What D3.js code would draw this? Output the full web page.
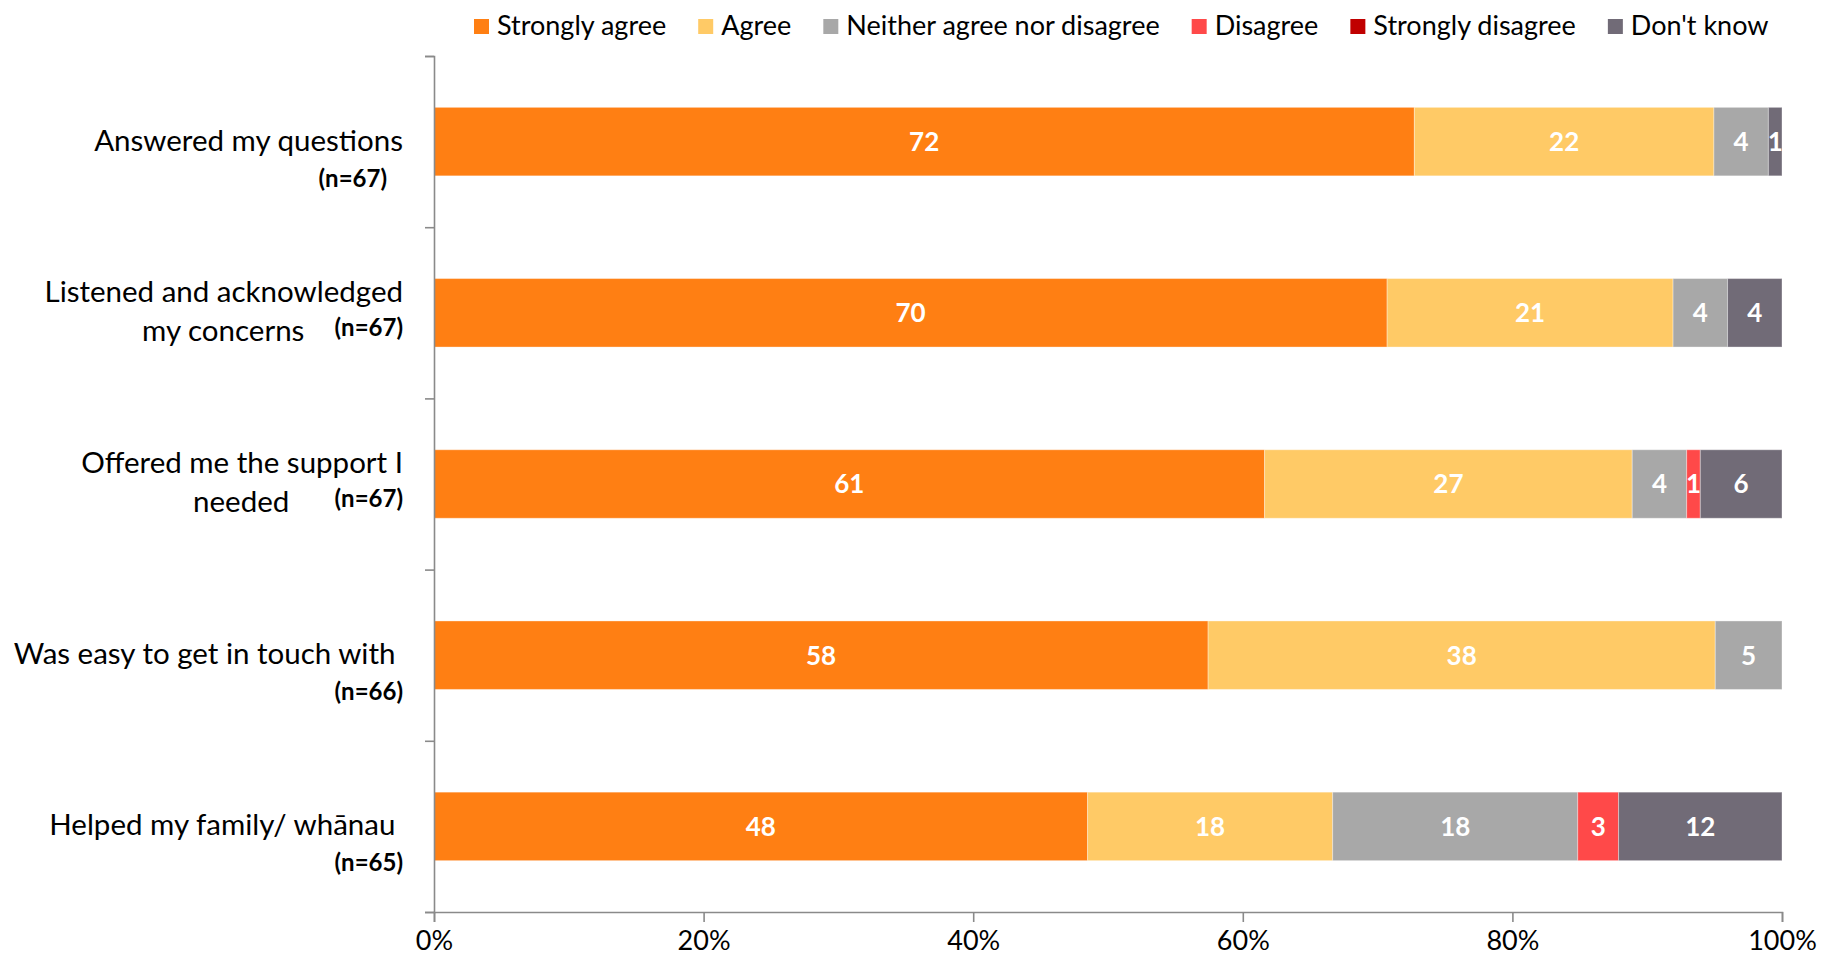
<!DOCTYPE html>
<html>
<head>
<meta charset="utf-8">
<script src="https://cdn.jsdelivr.net/npm/d3@7"></script>
<style>
  body { margin: 0; background: #ffffff; }
  svg { display: block; }
  text { font-family: Lato, "Open Sans", sans-serif; }
</style>
</head>
<body>
<svg id="chart" width="1826" height="966"></svg>
<script>
// Survey statements, shown top to bottom
const categories = [
  "Answered my questions",
  "Listened and acknowledged my concerns",
  "Offered me the support I needed",
  "Was easy to get in touch with",
  "Helped my family/ whānau"
];
// How each statement wraps on the left of the chart (nbsp keeps the gap before the n label)
const categoryLines = [
  ["Answered my questions"],
  ["Listened and acknowledged", "my concerns\u00a0\u00a0\u00a0\u00a0"],
  ["Offered me the support I", "needed\u00a0\u00a0\u00a0\u00a0\u00a0\u00a0"],
  ["Was easy to get in touch with\u00a0"],
  ["Helped my family/ whānau\u00a0"]
];
const sampleSizes = [67, 67, 67, 66, 65];
// The first sample-size label sits a little further in from the right edge
const sampleLabelInset = [16, 0, 0, 0, 0];

// Percentages per response (each row drawn as a 100% stacked bar)
const stronglyAgree    = [72, 70, 61, 58, 48];
const agree            = [22, 21, 27, 38, 18];
const neither          = [4, 4, 4, 5, 18];
const disagree         = [0, 0, 1, 0, 3];
const stronglyDisagree = [0, 0, 0, 0, 0];
const dontKnow         = [1, 4, 6, 0, 12];

const seriesNames  = ["Strongly agree", "Agree", "Neither agree nor disagree", "Disagree", "Strongly disagree", "Don't know"];
const seriesValues = [stronglyAgree, agree, neither, disagree, stronglyDisagree, dontKnow];
const seriesColors = ["#FF7F13", "#FFCA66", "#A8A8A8", "#FF4949", "#C00000", "#716B77"];

const xTickValues = [0, 0.2, 0.4, 0.6, 0.8, 1];

const svg = d3.select("#chart");
const axisColor = "#8a8a8a";

// Rows keyed by response for d3.stack
const rows = categories.map((c, i) => {
  const r = { category: c };
  seriesNames.forEach((s, k) => { r[s] = seriesValues[k][i]; });
  return r;
});

const stack = d3.stack().keys(seriesNames).offset(d3.stackOffsetExpand);
const layers = stack(rows);

const x = d3.scaleLinear().domain([0, 1]).range([434, 1782]);
const y = d3.scaleBand().domain(categories).range([56, 912]).padding(0);
const barFrac = 0.4;
const barH = y.bandwidth() * barFrac;
const barOffset = y.bandwidth() * (1 - barFrac) / 2;

// Stacked bars
const layerG = svg.append("g")
  .selectAll("g")
  .data(layers)
  .join("g")
  .attr("fill", (d, k) => seriesColors[k]);

layerG.selectAll("rect")
  .data(d => d.map(seg => ({ seg, key: d.key })))
  .join("rect")
  .attr("x", d => x(d.seg[0]))
  .attr("y", d => y(d.seg.data.category) + barOffset)
  .attr("width", d => Math.max(0, x(d.seg[1]) - x(d.seg[0])))
  .attr("height", barH)
  .attr("stroke", "#ffffff")
  .attr("stroke-opacity", 0.35)
  .attr("stroke-width", 1);

// Value labels inside segments
layerG.selectAll("text")
  .data(d => d.map(seg => ({ seg, key: d.key })).filter(d => d.seg.data[d.key] > 0))
  .join("text")
  .attr("x", d => (x(d.seg[0]) + x(d.seg[1])) / 2)
  .attr("y", d => y(d.seg.data.category) + y.bandwidth() / 2)
  .attr("dy", "0.36em")
  .attr("text-anchor", "middle")
  .attr("fill", "#ffffff")
  .attr("font-weight", 700)
  .attr("font-size", 26)
  .text(d => d.seg.data[d.key]);

// Category axis: a line with ticks on the band boundaries
const yEdges = d3.scaleLinear().domain([0, categories.length]).range([56, 912]);
const yAxis = svg.append("g")
  .attr("transform", "translate(434,0)")
  .call(d3.axisLeft(yEdges).tickValues(d3.range(categories.length + 1)).tickFormat("").tickSize(9).tickSizeOuter(9));
yAxis.selectAll("path, line").attr("stroke", axisColor).attr("stroke-width", 1.6);

// Percentage axis
const xAxis = svg.append("g")
  .attr("transform", "translate(0,912)")
  .call(d3.axisBottom(x).tickValues(xTickValues).tickFormat(d3.format(".0%")).tickSize(10).tickSizeOuter(10));
xAxis.selectAll("path, line").attr("stroke", axisColor).attr("stroke-width", 1.6);
xAxis.selectAll("text")
  .attr("y", 38).attr("dy", null)
  .attr("fill", "#000000")
  .attr("font-size", 27)
  .attr("font-family", "Lato, sans-serif");

// Category labels with sample sizes
const labelX = 403;
const labelSize = 29.5;
const nSize = 24;
categories.forEach((c, i) => {
  const cy = y(c) + y.bandwidth() / 2;
  const lines = categoryLines[i];
  const nText = "(n=" + sampleSizes[i] + ")";
  if (lines.length === 1) {
    svg.append("text")
      .attr("x", labelX).attr("y", cy + 9)
      .attr("text-anchor", "end").attr("font-size", labelSize).attr("fill", "#000")
      .text(lines[0]);
    svg.append("text")
      .attr("x", labelX - sampleLabelInset[i]).attr("y", cy + 45)
      .attr("text-anchor", "end").attr("font-size", nSize).attr("font-weight", 700).attr("fill", "#000")
      .text(nText);
  } else {
    svg.append("text")
      .attr("x", labelX).attr("y", cy - 11)
      .attr("text-anchor", "end").attr("font-size", labelSize).attr("fill", "#000")
      .text(lines[0]);
    const t = svg.append("text")
      .attr("x", labelX).attr("y", cy + 28)
      .attr("text-anchor", "end").attr("font-size", labelSize).attr("fill", "#000");
    t.append("tspan").text(lines[1]);
    t.append("tspan").attr("dy", -5).attr("font-size", nSize).attr("font-weight", 700).text(nText);
  }
});

// Legend across the top
const legend = svg.append("g").attr("transform", "translate(474,0)");
let lx = 0;
seriesNames.forEach((s, k) => {
  const item = legend.append("g").attr("transform", `translate(${lx},0)`);
  item.append("rect").attr("x", 0).attr("y", 19).attr("width", 15).attr("height", 15).attr("fill", seriesColors[k]);
  const txt = item.append("text")
    .attr("x", 23).attr("y", 35)
    .attr("font-size", 27).attr("fill", "#000")
    .text(s);
  lx += 23 + txt.node().getComputedTextLength() + 32;
});
</script>
</body>
</html>
